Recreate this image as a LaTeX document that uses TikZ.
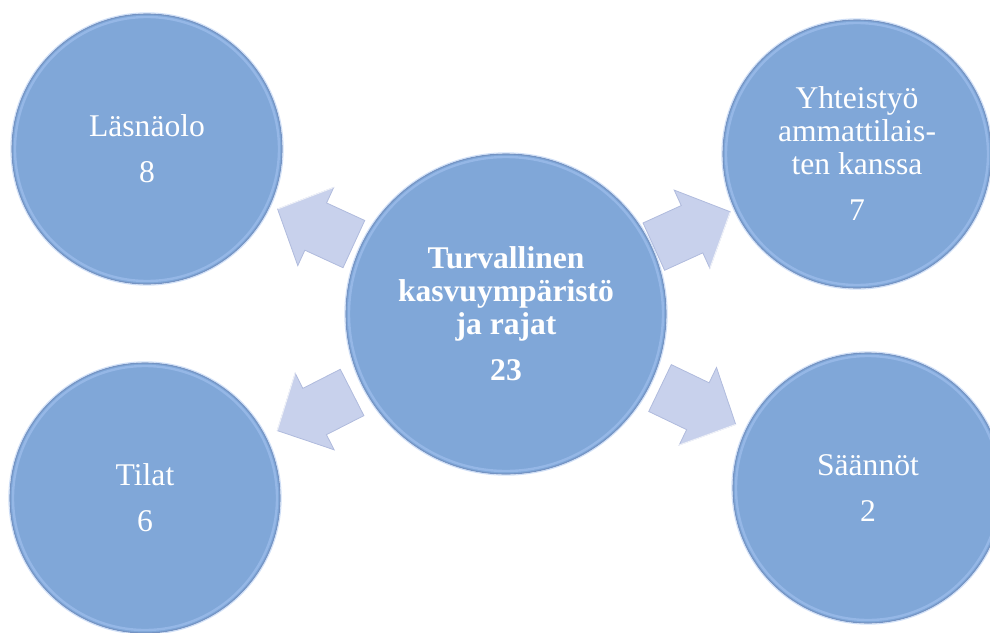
\documentclass[tikz,border=0pt]{standalone}
\usepackage{fontspec}
\setmainfont{Liberation Serif}
\usetikzlibrary{calc}
\definecolor{circfill}{HTML}{80A7D8}
\definecolor{circedge}{HTML}{7593C2}
\definecolor{circlight}{HTML}{A3C2F0}
\definecolor{arrfill}{HTML}{C8D1EC}
\definecolor{arredge}{HTML}{B0BBDD}
\tikzset{
  bubble/.style={circle, fill=circfill, draw=circedge, line width=1.1pt,
    inner sep=0pt, text=white, align=center,
    font=\fontsize{31.6}{33}\selectfont},
  hilite/.style={draw=circlight, line width=2.4pt, opacity=0.6},
  halo/.style={draw=circlight, line width=1pt, opacity=0.5},
  bigarrow/.pic={
    \fill[arrfill, draw=arredge, line width=0.8pt, line join=miter]
      (-42,-26) -- (0,-26) -- (0,-43) -- (42,0) -- (0,43) -- (0,26) -- (-42,26) -- cycle;
    \draw[white, line width=1pt, opacity=0.8] (0,43) -- (42,0);
  }
}
\begin{document}
\begin{tikzpicture}[x=1pt,y=-1pt]
\useasboundingbox (0,0) rectangle (990,632);
\clip (0,0) rectangle (990,632);
\node[bubble, minimum size=320pt, font=\fontsize{31.6}{33}\selectfont\bfseries] (c) at (506,314)
  {Turvallinen\\kasvuympäristö\\ja rajat\\[13pt]23};
\node[bubble, minimum size=270pt] (tl) at (147,149) {Läsnäolo\\[13pt]8};
\node[bubble, minimum size=268pt] (tr) at (857,154) {Yhteistyö\\ammattilais-\\ten kanssa\\[13pt]7};
\node[bubble, minimum size=270pt] (bl) at (145,498) {Tilat\\[13pt]6};
\node[bubble, minimum size=270pt] (br) at (868,488) {Säännöt\\[13pt]2};
\foreach \nm/\rr in {c/157, tl/132, tr/131, bl/132, br/132}{
  \draw[hilite] (\nm.center) circle (\rr);
  \draw[halo] (\nm.center) circle (\rr+4.2);
}
\foreach \nm in {tl, tr, bl, br}
  \path let \p1=($(\nm)-(c)$), \n1={atan2(\y1,\x1)} in
    pic[rotate=\n1] at ($(c)!0.53!(\nm)$) {bigarrow};
\end{tikzpicture}
\end{document}
